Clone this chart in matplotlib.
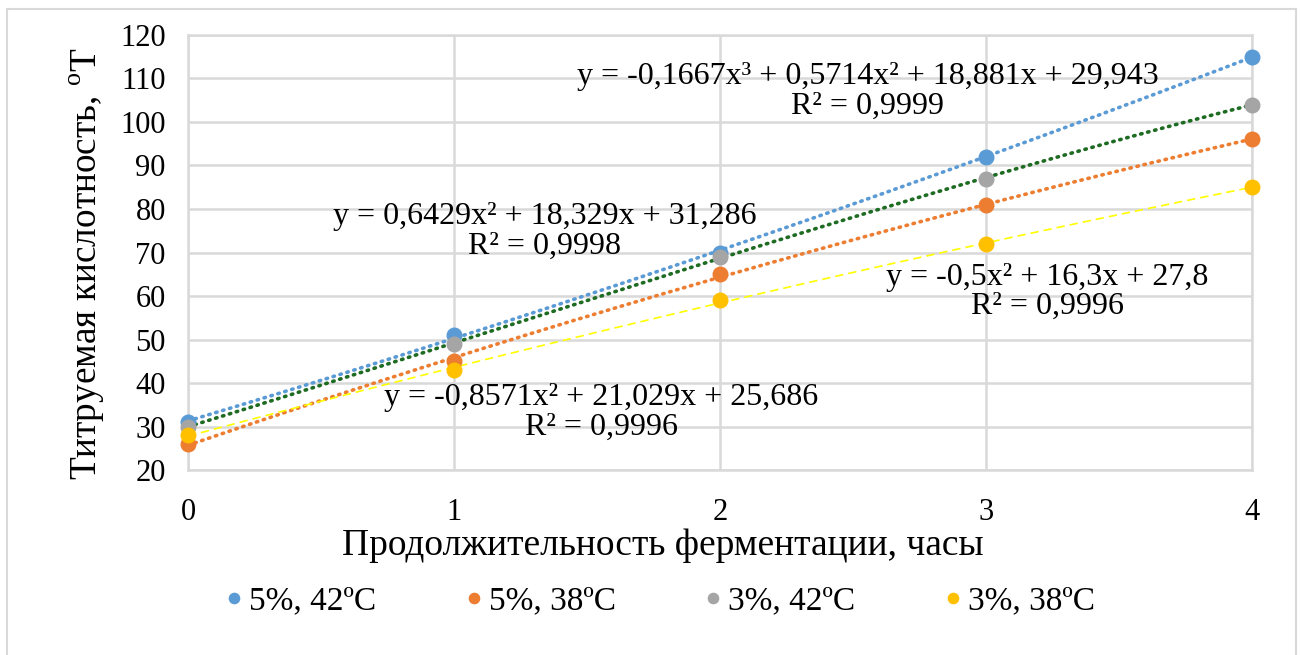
import matplotlib
matplotlib.use('Agg')
import matplotlib.pyplot as plt
from matplotlib.patches import Rectangle
import numpy as np

plt.rcParams['font.family'] = ['Liberation Serif', 'DejaVu Serif']
plt.rcParams['mathtext.fontset'] = 'custom'
plt.rcParams['mathtext.rm'] = 'Liberation Serif'

hours = [0, 1, 2, 3, 4]
series_names = ['5%, 42ºC', '5%, 38ºC', '3%, 42ºC', '3%, 38ºC']
acid_5_42 = [31, 51, 70, 92, 115]
acid_5_38 = [26, 45, 65, 81, 96]
acid_3_42 = [30, 49, 69, 87, 104]
acid_3_38 = [28, 43, 59, 72, 85]

# polynomial trendline coefficients (highest power first)
trend_5_42 = [0.6429, 18.329, 31.286]
trend_5_38 = [-0.8571, 21.029, 25.686]
trend_3_42 = [-0.1667, 0.5714, 18.881, 29.943]
trend_3_38 = [-0.5, 16.3, 27.8]

eq_5_42 = 'y = 0,6429x² + 18,329x + 31,286\nR² = 0,9998'
eq_5_38 = 'y = -0,8571x² + 21,029x + 25,686\nR² = 0,9996'
eq_3_42 = 'y = -0,1667x³ + 0,5714x² + 18,881x + 29,943\nR² = 0,9999'
eq_3_38 = 'y = -0,5x² + 16,3x + 27,8\nR² = 0,9996'

marker_colors = ['#5b9bd5', '#ed7d31', '#a5a5a5', '#ffc000']
grid_c = '#d9d9d9'

fig = plt.figure(figsize=(13.01, 6.55), dpi=100)
ax = fig.add_axes([0.1445, 0.2824, 0.8178, 0.6642])

xs = np.linspace(0, 4, 200)
# trendlines first, then markers on top
dots = (0, (0.4, 1.6))
ax.plot(xs, np.polyval(trend_5_42, xs), color='#5b9bd5', lw=2.6, ls=dots,
        dash_capstyle='round', zorder=2)
ax.plot(xs, np.polyval(trend_3_42, xs), color='#1e6b22', lw=2.6, ls=dots,
        dash_capstyle='round', zorder=2)
ax.plot(xs, np.polyval(trend_5_38, xs), color='#ed7d31', lw=2.6, ls=dots,
        dash_capstyle='round', zorder=2)
ax.plot(xs, np.polyval(trend_3_38, xs), color='#ffff00', lw=1.2, ls=(0, (5, 3)), zorder=2)

for vals, name, c in zip([acid_5_42, acid_5_38, acid_3_42, acid_3_38],
                         series_names, marker_colors):
    ax.plot(hours, vals, 'o', color=c, ms=10.5, label=name, zorder=3,
            clip_on=False)

ax.set_xlim(0, 4)
ax.set_ylim(20, 120)
ax.set_xticks(hours)
ax.set_yticks(np.arange(20, 121, 10))
ax.grid(True, color=grid_c, lw=1.8)
ax.set_axisbelow(True)
for s in ax.spines.values():
    s.set_color(grid_c)
    s.set_linewidth(1.8)
ax.tick_params(length=0, labelsize=22)
ax.tick_params(axis='y', pad=16)
ax.tick_params(axis='x', pad=20)

ax.set_xlabel('Продолжительность ферментации, часы', fontsize=27)
ax.set_ylabel('Титруемая кислотность, $^{\\mathrm{o}}$Т', fontsize=26.8)
ax.xaxis.set_label_coords(0.446, -0.135)
ax.yaxis.set_label_coords(-0.076, 0.474)

txt = dict(fontsize=23, ha='center', va='center', linespacing=1.02, zorder=4)
ax.text(1.342, 74.9, eq_5_42, **txt)
ax.text(1.553, 33.3, eq_5_38, **txt)
ax.text(2.556, 107.0, eq_3_42, **txt)
ax.text(3.23, 60.9, eq_3_38, **txt)

fig.legend(loc='center', bbox_to_anchor=(0.505, 0.082), ncol=4, frameon=False,
           fontsize=24, handletextpad=0.0, columnspacing=2.47, markerscale=0.7,
           handlelength=0.9)

fig.patches.append(Rectangle((7 / 1301, -0.05), 1289 / 1301, 1 - 9 / 655 + 0.05,
                             transform=fig.transFigure, fill=False,
                             edgecolor=grid_c, lw=1.5))

fig.savefig('out.png', dpi=100)
